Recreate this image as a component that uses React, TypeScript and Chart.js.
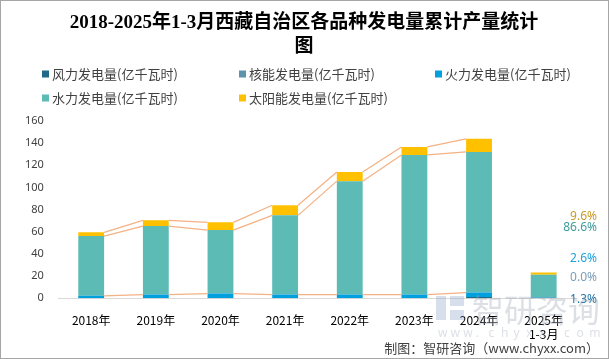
import React, { useEffect, useRef } from 'react';
import { Chart, registerables } from 'chart.js';

Chart.register(...registerables);

// ---- data ----
const categories: (string | string[])[] = ['2018年', '2019年', '2020年', '2021年', '2022年', '2023年', '2024年', ['2025年', '1-3月']];
const seriesNames = ['风力发电量(亿千瓦时)', '核能发电量(亿千瓦时)', '火力发电量(亿千瓦时)', '水力发电量(亿千瓦时)', '太阳能发电量(亿千瓦时)'];
const wind = [0, 0, 0, 0, 0, 0, 1.0, 0.3];
const nuclear = [0, 0, 0, 0, 0, 0, 0, 0];
const thermal = [2.1, 3.3, 4.2, 3.3, 3.3, 3.3, 4.1, 0.6];
const hydro = [54.0, 61.8, 57.3, 71.5, 102.4, 126.1, 127.0, 20.2];
const solar = [3.4, 5.2, 7.0, 9.1, 8.2, 7.2, 11.8, 2.2];
const yTicks = [0, 20, 40, 60, 80, 100, 120, 140, 160];
// share labels for the latest period (order: wind, nuclear, thermal, hydro, solar)
const shareLabels = ['1.3%', '0.0%', '2.6%', '86.6%', '9.6%'];
const shareAnchors = [-1.5, 18.5, 35.5, 64, 74];

const titleLines = ['2018-2025年1-3月西藏自治区各品种发电量累计产量统计', '图'];
const footerText = '制图：智研咨询（www.chyxx.com）';

const colors = ['#1F6A8A', '#5E93AC', '#00A0DE', '#5CBBB5', '#FFC000'];
const shareColors = ['#1F74A6', '#7A9DB8', '#1EA2DE', '#3F9C9A', '#C99A25'];
const seriesLineColor = '#F4B183';

const decorPlugin = {
  id: 'decor',
  beforeDraw(chart: any) {
    const ctx = chart.ctx;
    ctx.save();
    ctx.fillStyle = '#ffffff';
    ctx.fillRect(0, 0, chart.width, chart.height);
    ctx.restore();
  },
  afterDatasetsDraw(chart: any) {
    const ctx = chart.ctx;
    ctx.save();
    ctx.strokeStyle = seriesLineColor;
    ctx.lineWidth = 1.2;
    [2, 3, 4].forEach((di) => {
      const meta = chart.getDatasetMeta(di);
      for (let j = 0; j < 6; j++) {
        const a = meta.data[j] as any;
        const b = meta.data[j + 1] as any;
        ctx.beginPath();
        ctx.moveTo(a.x + a.width / 2, a.y);
        ctx.lineTo(b.x - b.width / 2, b.y);
        ctx.stroke();
      }
    });
    ctx.restore();
  },
  afterDraw(chart: any) {
    const ctx = chart.ctx;
    const yScale = chart.scales.y;
    ctx.save();
    // title
    ctx.fillStyle = '#000000';
    ctx.textAlign = 'center';
    ctx.textBaseline = 'middle';
    ctx.font = "bold 19px 'Liberation Serif', 'Noto Sans CJK SC', serif";
    ctx.fillText(titleLines[0], 304, 23);
    ctx.fillText(titleLines[1], 304, 47);

    // legend
    const cols = [42, 239, 435];
    const rows = [74, 98];
    ctx.font = "13px 'Noto Sans CJK SC', sans-serif";
    ctx.textAlign = 'left';
    seriesNames.forEach((name, i) => {
      const x = cols[i % 3];
      const y = rows[Math.floor(i / 3)];
      ctx.fillStyle = colors[i];
      ctx.fillRect(x, y - 3.5, 7, 7);
      ctx.fillStyle = '#404040';
      ctx.fillText(name, x + 10, y);
    });

    // share labels
    ctx.font = "12px 'Noto Sans', sans-serif";
    ctx.textAlign = 'right';
    shareLabels.forEach((t, i) => {
      ctx.fillStyle = shareColors[i];
      ctx.fillText(t, 597, yScale.getPixelForValue(shareAnchors[i]));
    });

    // watermark
    ctx.globalAlpha = 0.35;
    ctx.fillStyle = '#9AA3B2';
    ctx.textAlign = 'left';
    ctx.font = "32px 'Noto Sans CJK SC', sans-serif";
    ctx.fillText('智研咨询', 472, 310);
    ctx.font = "12px 'Noto Sans', sans-serif";
    const wm = 'www.chyxx.com';
    for (let i = 0; i < wm.length; i++) {
      ctx.fillText(wm[i], 438 + i * 12.6, 334);
    }
    ctx.fillStyle = '#8FA4C8';
    ctx.fillRect(436, 296, 10, 24);
    ctx.fillRect(450, 296, 14, 10);
    ctx.fillRect(450, 310, 14, 10);
    ctx.globalAlpha = 1;

    // footer
    ctx.fillStyle = '#404040';
    ctx.textAlign = 'right';
    ctx.font = "13px 'Noto Sans CJK SC', sans-serif";
    ctx.fillText(footerText, 599, 348);

    // border
    ctx.strokeStyle = '#A6A6A6';
    ctx.lineWidth = 1;
    ctx.strokeRect(0.5, 0.5, chart.width - 1, chart.height - 1);
    ctx.restore();
  },
};

export default function App() {
  const ref = useRef<HTMLCanvasElement>(null);
  useEffect(() => {
    if (!ref.current) return;
    const data = [wind, nuclear, thermal, hydro, solar];
    const chart = new Chart(ref.current, {
      type: 'bar',
      data: {
        labels: categories as any,
        datasets: data.map((d, i) => ({
          label: seriesNames[i],
          data: d,
          backgroundColor: colors[i],
          borderWidth: 0,
          categoryPercentage: 1,
          barPercentage: 0.4,
        })),
      },
      options: {
        animation: false,
        responsive: false,
        maintainAspectRatio: false,
        events: [],
        layout: { padding: { top: 121, left: 10, right: 33, bottom: 2 } },
        plugins: {
          legend: { display: false },
          title: { display: false },
          tooltip: { enabled: false },
        },
        scales: {
          x: {
            stacked: true,
            grid: { display: false, drawTicks: false },
            border: { display: true, color: '#D9D9D9', width: 1 },
            ticks: {
              padding: 15,
              color: '#000000',
              font: { family: "'Noto Sans CJK SC', sans-serif", size: 12 },
              maxRotation: 0,
              autoSkip: false,
            },
          },
          y: {
            stacked: true,
            min: 0,
            max: 160,
            afterBuildTicks: (scale: any) => {
              scale.ticks = yTicks.map((v) => ({ value: v }));
            },
            grid: { display: false, drawTicks: false },
            border: { display: false },
            ticks: {
              padding: 15,
              color: '#404040',
              font: { family: "'Noto Sans', sans-serif", size: 11 },
            },
          },
        },
      },
      plugins: [decorPlugin],
    });
    return () => chart.destroy();
  }, []);
  return (
    <div style={{ position: 'fixed', left: 0, top: 0, width: 609, height: 359 }}>
      <canvas ref={ref} width={609} height={359} style={{ width: 609, height: 359, display: 'block' }} />
    </div>
  );
}
